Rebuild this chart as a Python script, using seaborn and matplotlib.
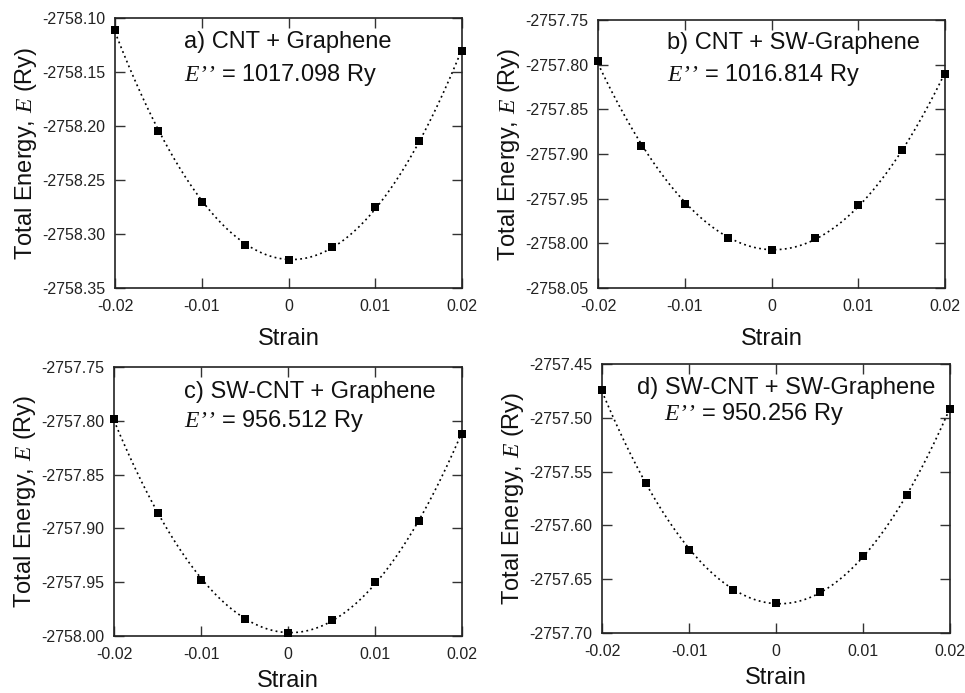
import numpy as np
import pandas as pd
import matplotlib
matplotlib.use("Agg")
import matplotlib.pyplot as plt
import seaborn as sns
from matplotlib.ticker import FixedLocator, FuncFormatter

strain = [-0.02, -0.015, -0.01, -0.005, 0.0, 0.005, 0.01, 0.015, 0.02]

energy_a = [-2758.111, -2758.205, -2758.270, -2758.310, -2758.324, -2758.312, -2758.275, -2758.214, -2758.131]
energy_b = [-2757.796, -2757.891, -2757.956, -2757.994, -2758.007, -2757.994, -2757.957, -2757.896, -2757.811]
energy_c = [-2757.798, -2757.886, -2757.948, -2757.984, -2757.997, -2757.985, -2757.950, -2757.893, -2757.812]
energy_d = [-2757.474, -2757.561, -2757.623, -2757.660, -2757.672, -2757.662, -2757.628, -2757.572, -2757.492]

titles = ["a) CNT + Graphene", "b) CNT + SW-Graphene", "c) SW-CNT + Graphene", "d) SW-CNT + SW-Graphene"]
e2_labels = ["1017.098", "1016.814", "956.512", "950.256"]
ylims = [(-2758.35, -2758.10), (-2758.05, -2757.75), (-2758.00, -2757.75), (-2757.70, -2757.45)]
xticks = [-0.02, -0.01, 0.0, 0.01, 0.02]

sns.set_theme(style="ticks")
plt.rcParams['font.family'] = ['Liberation Sans', 'DejaVu Sans']
plt.rcParams['axes.unicode_minus'] = False
plt.rcParams['mathtext.fontset'] = 'custom'
plt.rcParams['mathtext.it'] = 'Liberation Serif:italic'
plt.rcParams['mathtext.rm'] = 'Liberation Serif:italic'

fig = plt.figure(figsize=(9.65, 6.93), dpi=100)
rects = [
    (115, 18, 462, 288),
    (598, 20, 945, 288),
    (114, 367, 462, 636),
    (602, 364, 950, 633),
]
xlabelpads = [10, 10, 6, 6]
W, H = 965, 693
text_pos = [
    ((0.20, 0.91), (0.20, 0.79)),
    ((0.20, 0.914), (0.20, 0.795)),
    ((0.20, 0.907), (0.20, 0.80)),
    ((0.10, 0.91), (0.178, 0.814)),
]
datasets = [energy_a, energy_b, energy_c, energy_d]

for i, (energy, rect) in enumerate(zip(datasets, rects)):
    l, t, r, b = rect
    ax = fig.add_axes([l / W, (H - b) / H, (r - l) / W, (b - t) / H])
    df = pd.DataFrame({"strain": strain, "energy": energy})
    coef = np.polyfit(df["strain"], df["energy"], 2)
    xs = np.linspace(min(strain), max(strain), 200)
    fit = pd.DataFrame({"strain": xs, "energy": np.polyval(coef, xs)})
    sns.lineplot(data=fit, x="strain", y="energy", ax=ax, color="black",
                 linestyle=(0, (1.1, 2.0)), linewidth=1.2)
    sns.scatterplot(data=df, x="strain", y="energy", ax=ax, marker="s", s=38,
                    color="black", edgecolor="black", linewidth=0, zorder=5, clip_on=False)
    ax.set_xlim(-0.02, 0.02)
    ax.set_ylim(*ylims[i])
    lo, hi = ylims[i]
    yt = np.round(np.arange(lo, hi + 1e-9, 0.05), 2)
    ax.yaxis.set_major_locator(FixedLocator(yt))
    ax.yaxis.set_major_formatter(FuncFormatter(lambda v, p: f"{v:.2f}"))
    ax.xaxis.set_major_locator(FixedLocator(xticks))
    ax.xaxis.set_major_formatter(FuncFormatter(lambda v, p: "0" if abs(v) < 1e-12 else f"{v:g}"))
    ax.tick_params(direction="in", length=7, width=1.0, top=True, right=True,
                   labelsize=11.5, colors="#333333", labelcolor="#222222")
    ax.tick_params(axis="y", pad=7)
    ax.tick_params(axis="x", pad=8)
    for sp in ax.spines.values():
        sp.set_visible(True)
        sp.set_linewidth(1.2)
        sp.set_color("#222222")
    ax.set_xlabel("Strain", fontsize=17, labelpad=xlabelpads[i], color="#111111")
    ax.set_ylabel(r"Total Energy, $E$ (Ry)", fontsize=17, labelpad=2, color="#111111")
    (x1, y1), (x2, y2) = text_pos[i]
    ax.text(x1, y1, titles[i], transform=ax.transAxes, fontsize=17, va="center", ha="left", color="#111111")
    ax.text(x2, y2, r"$E’’$ = " + e2_labels[i] + " Ry", transform=ax.transAxes, fontsize=17,
            va="center", ha="left", color="#111111")

fig.savefig("out.png", dpi=100)
